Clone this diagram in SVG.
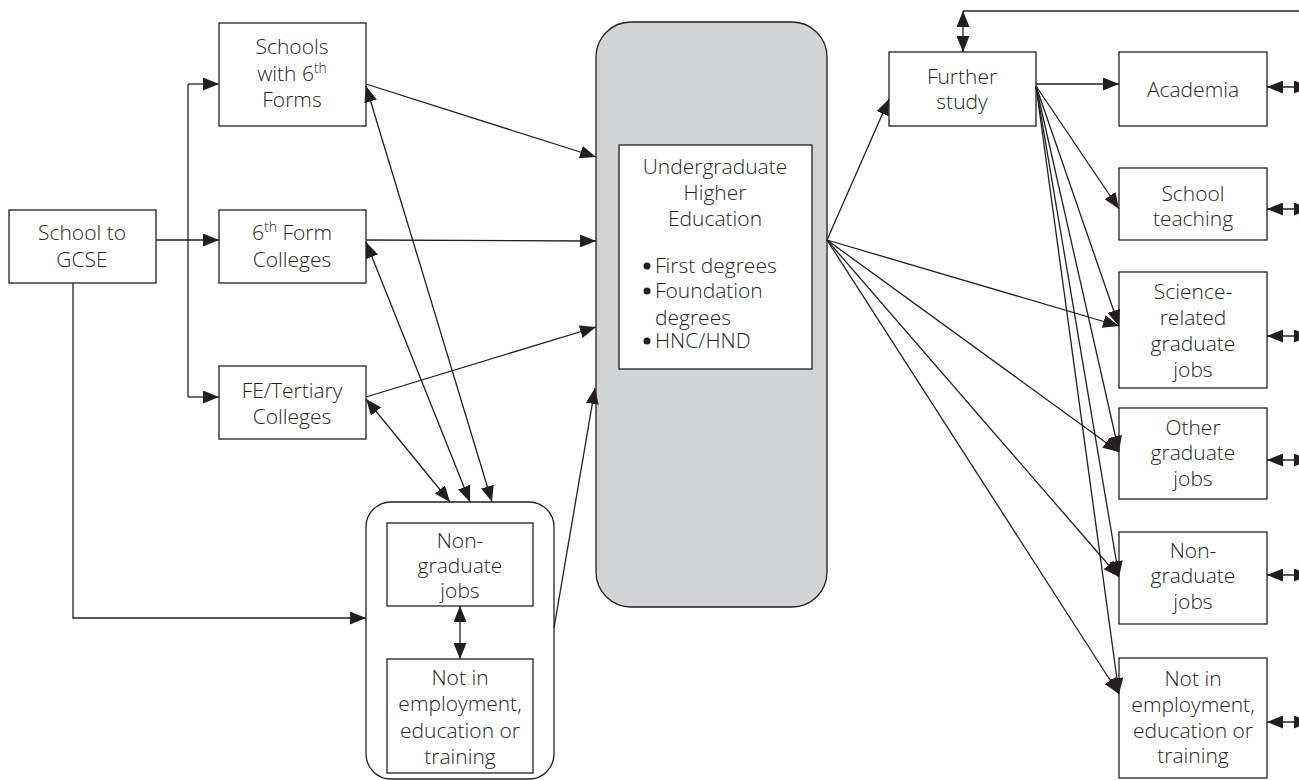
<svg xmlns="http://www.w3.org/2000/svg" width="1299" height="780" viewBox="0 0 1299 780">
<defs>
<marker id="ah" viewBox="0 0 16 13" refX="16" refY="6.5" markerWidth="16" markerHeight="13" markerUnits="userSpaceOnUse" orient="auto-start-reverse">
<path d="M0,0 L16,6.5 L0,13 Z" fill="#231f20"/>
</marker>
</defs>
<style>
.box{fill:#fff;stroke:#231f20;stroke-width:1.3}
.rbox{fill:#fff;stroke:#231f20;stroke-width:1.3}
.ug{fill:#d1d3d4;stroke:#231f20;stroke-width:1.3}
.t{font-family:"Open Sans","Liberation Sans",sans-serif;font-weight:300;font-size:21px;fill:#231f20;text-anchor:middle}
.tl{font-family:"Open Sans","Liberation Sans",sans-serif;font-weight:300;font-size:21px;fill:#231f20}
.sup{font-size:14px}
.c line,.c polyline{stroke:#231f20;stroke-width:1.3;fill:none}
.a{marker-end:url(#ah)}
.d{marker-start:url(#ah);marker-end:url(#ah)}
</style>

<g id="node-ug">
<rect class="ug" x="596" y="22" width="231" height="585" rx="35"/>
<rect class="box" x="619" y="145" width="193" height="224"/>
<text class="t" x="715" y="174">Undergraduate</text>
<text class="t" x="715" y="200">Higher</text>
<text class="t" x="715" y="226">Education</text>
<circle cx="647" cy="266" r="3.5" fill="#231f20"/>
<text class="tl" x="655" y="273">First degrees</text>
<circle cx="647" cy="291" r="3.5" fill="#231f20"/>
<text class="tl" x="655" y="298">Foundation</text>
<text class="tl" x="655" y="325">degrees</text>
<circle cx="647" cy="341" r="3.5" fill="#231f20"/>
<text class="tl" x="655" y="348">HNC/HND</text>
</g>

<g id="node-gcse">
<rect class="box" x="9" y="210" width="147" height="73"/>
<text class="t" x="82" y="240">School to</text>
<text class="t" x="82" y="267">GCSE</text>
</g>

<g id="node-schools6">
<rect class="box" x="219" y="23" width="147" height="103"/>
<text class="t" x="292" y="54">Schools</text>
<text class="t" x="292" y="81">with 6<tspan class="sup" dy="-8">th</tspan></text>
<text class="t" x="292" y="107">Forms</text>
</g>

<g id="node-6form">
<rect class="box" x="219" y="210" width="147" height="73"/>
<text class="t" x="292" y="240">6<tspan class="sup" dy="-8">th</tspan><tspan dy="8">  Form</tspan></text>
<text class="t" x="292" y="267">Colleges</text>
</g>

<g id="node-fe">
<rect class="box" x="219" y="366" width="147" height="73"/>
<text class="t" x="292" y="398">FE/Tertiary</text>
<text class="t" x="292" y="424">Colleges</text>
</g>

<g id="node-left-group">
<rect class="rbox" x="366" y="502" width="188" height="277" rx="25"/>
</g>
<g id="node-left-nongrad">
<rect class="box" x="387" y="523" width="146" height="83"/>
<text class="t" x="460" y="548">Non-</text>
<text class="t" x="460" y="573">graduate</text>
<text class="t" x="460" y="598">jobs</text>
</g>
<g id="node-left-neet">
<rect class="box" x="387" y="659" width="146" height="114"/>
<text class="t" x="460" y="685">Not in</text>
<text class="t" x="460" y="711">employment,</text>
<text class="t" x="460" y="738">education or</text>
<text class="t" x="460" y="764">training</text>
</g>

<g id="node-further">
<rect class="box" x="889" y="52" width="147" height="74"/>
<text class="t" x="962" y="84">Further</text>
<text class="t" x="962" y="109">study</text>
</g>

<g id="node-academia">
<rect class="box" x="1119" y="52" width="148" height="74"/>
<text class="t" x="1193" y="97">Academia</text>
</g>

<g id="node-teaching">
<rect class="box" x="1119" y="168" width="148" height="72"/>
<text class="t" x="1193" y="201">School</text>
<text class="t" x="1193" y="226">teaching</text>
</g>

<g id="node-science">
<rect class="box" x="1119" y="272" width="148" height="116"/>
<text class="t" x="1193" y="299">Science-</text>
<text class="t" x="1193" y="325">related</text>
<text class="t" x="1193" y="351">graduate</text>
<text class="t" x="1193" y="377">jobs</text>
</g>

<g id="node-other">
<rect class="box" x="1119" y="408" width="148" height="91"/>
<text class="t" x="1193" y="435">Other</text>
<text class="t" x="1193" y="460">graduate</text>
<text class="t" x="1193" y="486">jobs</text>
</g>

<g id="node-right-nongrad">
<rect class="box" x="1119" y="532" width="148" height="92"/>
<text class="t" x="1193" y="558">Non-</text>
<text class="t" x="1193" y="583">graduate</text>
<text class="t" x="1193" y="609">jobs</text>
</g>

<g id="node-right-neet">
<rect class="box" x="1119" y="658" width="148" height="120"/>
<text class="t" x="1193" y="686">Not in</text>
<text class="t" x="1193" y="712">employment,</text>
<text class="t" x="1193" y="738">education or</text>
<text class="t" x="1193" y="763">training</text>
</g>

<g id="connectors" class="c">
<line class="a" x1="156" y1="240" x2="219" y2="240"/>
<polyline points="188,240 188,84"/>
<polyline points="188,240 188,397"/>
<line class="a" x1="188" y1="84" x2="219" y2="84"/>
<line class="a" x1="188" y1="397" x2="219" y2="397"/>
<polyline class="a" points="73,283 73,618 366,618"/>
<line class="a" x1="366" y1="84" x2="596" y2="157"/>
<line class="a" x1="366" y1="240" x2="596" y2="241"/>
<line class="a" x1="366" y1="397" x2="596" y2="327"/>
<line class="a" x1="554" y1="628" x2="595" y2="388"/>
<line class="d" x1="366" y1="86" x2="492" y2="502"/>
<line class="d" x1="366" y1="242" x2="470" y2="502"/>
<line class="d" x1="366" y1="399" x2="450" y2="502"/>
<line class="d" x1="460" y1="606" x2="460" y2="659"/>
<line class="a" x1="827" y1="240" x2="889" y2="99"/>
<line class="a" x1="827" y1="240" x2="1119" y2="326"/>
<line class="a" x1="827" y1="240" x2="1119" y2="452"/>
<line class="a" x1="827" y1="240" x2="1119" y2="577"/>
<line class="a" x1="827" y1="240" x2="1119" y2="694"/>
<line class="a" x1="1036" y1="84" x2="1119" y2="84"/>
<line class="a" x1="1036" y1="86" x2="1119" y2="209"/>
<line class="a" x1="1036" y1="86" x2="1119" y2="326"/>
<line class="a" x1="1036" y1="86" x2="1119" y2="452"/>
<line class="a" x1="1036" y1="86" x2="1119" y2="577"/>
<line class="a" x1="1036" y1="86" x2="1119" y2="694"/>
<line x1="963" y1="11" x2="1310" y2="11"/>
<line class="d" x1="963" y1="11" x2="963" y2="52"/>
<line class="d" x1="1267" y1="87" x2="1310" y2="87"/>
<line class="d" x1="1267" y1="209" x2="1310" y2="209"/>
<line class="d" x1="1267" y1="336" x2="1310" y2="336"/>
<line class="d" x1="1267" y1="460" x2="1310" y2="460"/>
<line class="d" x1="1267" y1="575" x2="1310" y2="575"/>
<line class="d" x1="1267" y1="722" x2="1310" y2="722"/>
</g>
</svg>
